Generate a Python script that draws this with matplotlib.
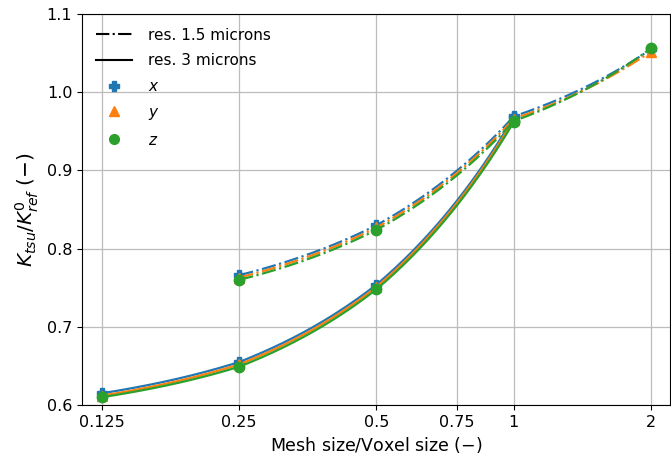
import numpy as np
import matplotlib
matplotlib.use("Agg")
import matplotlib.pyplot as plt
from matplotlib.lines import Line2D

plt.rcParams['font.family'] = ['DejaVu Sans']
plt.rcParams['mathtext.fontset'] = 'dejavusans'

# ---- data ----
mesh_3um = [0.125, 0.25, 0.5, 1.0]
res3_x = [0.615, 0.655, 0.754, 0.968]
res3_y = [0.612, 0.652, 0.751, 0.965]
res3_z = [0.610, 0.649, 0.748, 0.962]

mesh_15um = [0.25, 0.5, 1.0, 2.0]
res15_x = [0.766, 0.830, 0.969, 1.055]
res15_y = [0.763, 0.827, 0.966, 1.052]
res15_z = [0.760, 0.824, 0.963, 1.056]

xticks = [0.125, 0.25, 0.5, 0.75, 1, 2]
xticklabels = ['0.125', '0.25', '0.5', '0.75', '1', '2']
yticks = [0.6, 0.7, 0.8, 0.9, 1.0, 1.1]

colors = ['#1f77b4', '#ff7f0e', '#2ca02c']
markers = ['P', '^', 'o']
names = ['$x$', '$y$', '$z$']


def straight_in_data(xs, ys, n=60):
    """Sample each data-space straight segment so it renders as such on a log axis."""
    px, py = [], []
    for i in range(len(xs) - 1):
        t = np.linspace(0, 1, n, endpoint=(i == len(xs) - 2))
        px.extend(xs[i] + t * (xs[i + 1] - xs[i]))
        py.extend(ys[i] + t * (ys[i + 1] - ys[i]))
    return px, py


fig = plt.figure(figsize=(6.71, 4.62), dpi=100)
ax = fig.add_axes([82 / 671, (462 - 405) / 462, (670 - 82) / 671, (405 - 14) / 462])
ax.set_xscale('log', base=2)

series3 = [res3_x, res3_y, res3_z]
series15 = [res15_x, res15_y, res15_z]
for c, m, s3, s15 in zip(colors, markers, series3, series15):
    lx, ly = straight_in_data(mesh_3um, s3)
    ax.plot(lx, ly, '-', color=c, lw=1.6)
    lx, ly = straight_in_data(mesh_15um, s15)
    ax.plot(lx, ly, '-.', color=c, lw=1.6)
    ax.plot(mesh_3um, s3, linestyle='none', marker=m, color=c, ms=7.5)
    ax.plot(mesh_15um, s15, linestyle='none', marker=m, color=c, ms=7.5)

lo = 2 ** (-3 - 20 / 137.3)
hi = 2 ** (1 + 19 / 137.3)
ax.set_xlim(lo, hi)
ax.set_ylim(0.6, 1.1)
ax.set_xticks(xticks)
ax.set_xticklabels(xticklabels)
ax.xaxis.set_minor_locator(matplotlib.ticker.NullLocator())
ax.set_yticks(yticks)
ax.set_yticklabels(['0.6', '0.7', '0.8', '0.9', '1.0', '1.1'])
ax.tick_params(labelsize=11.5)
ax.grid(True, color='#bcbcbc', lw=0.9)
ax.set_axisbelow(True)

ax.set_xlabel('Mesh size/Voxel size $(-)$', fontsize=12.5)
ax.set_ylabel('$K_{tsu}/K^0_{ref}$ $(-)$', fontsize=14.5)

handles = [
    Line2D([], [], color='black', ls='-.', lw=1.5),
    Line2D([], [], color='black', ls='-', lw=1.5),
]
labels = ['res. 1.5 microns', 'res. 3 microns']
for c, m, nm in zip(colors, markers, names):
    handles.append(Line2D([], [], color=c, marker=m, ls='none', ms=7))
    labels.append(nm)
ax.legend(handles, labels, loc='upper left', frameon=False, fontsize=11,
          handlelength=2.4, handletextpad=1.0, labelspacing=0.7,
          borderaxespad=0.5)

fig.savefig('out.png', dpi=100)
